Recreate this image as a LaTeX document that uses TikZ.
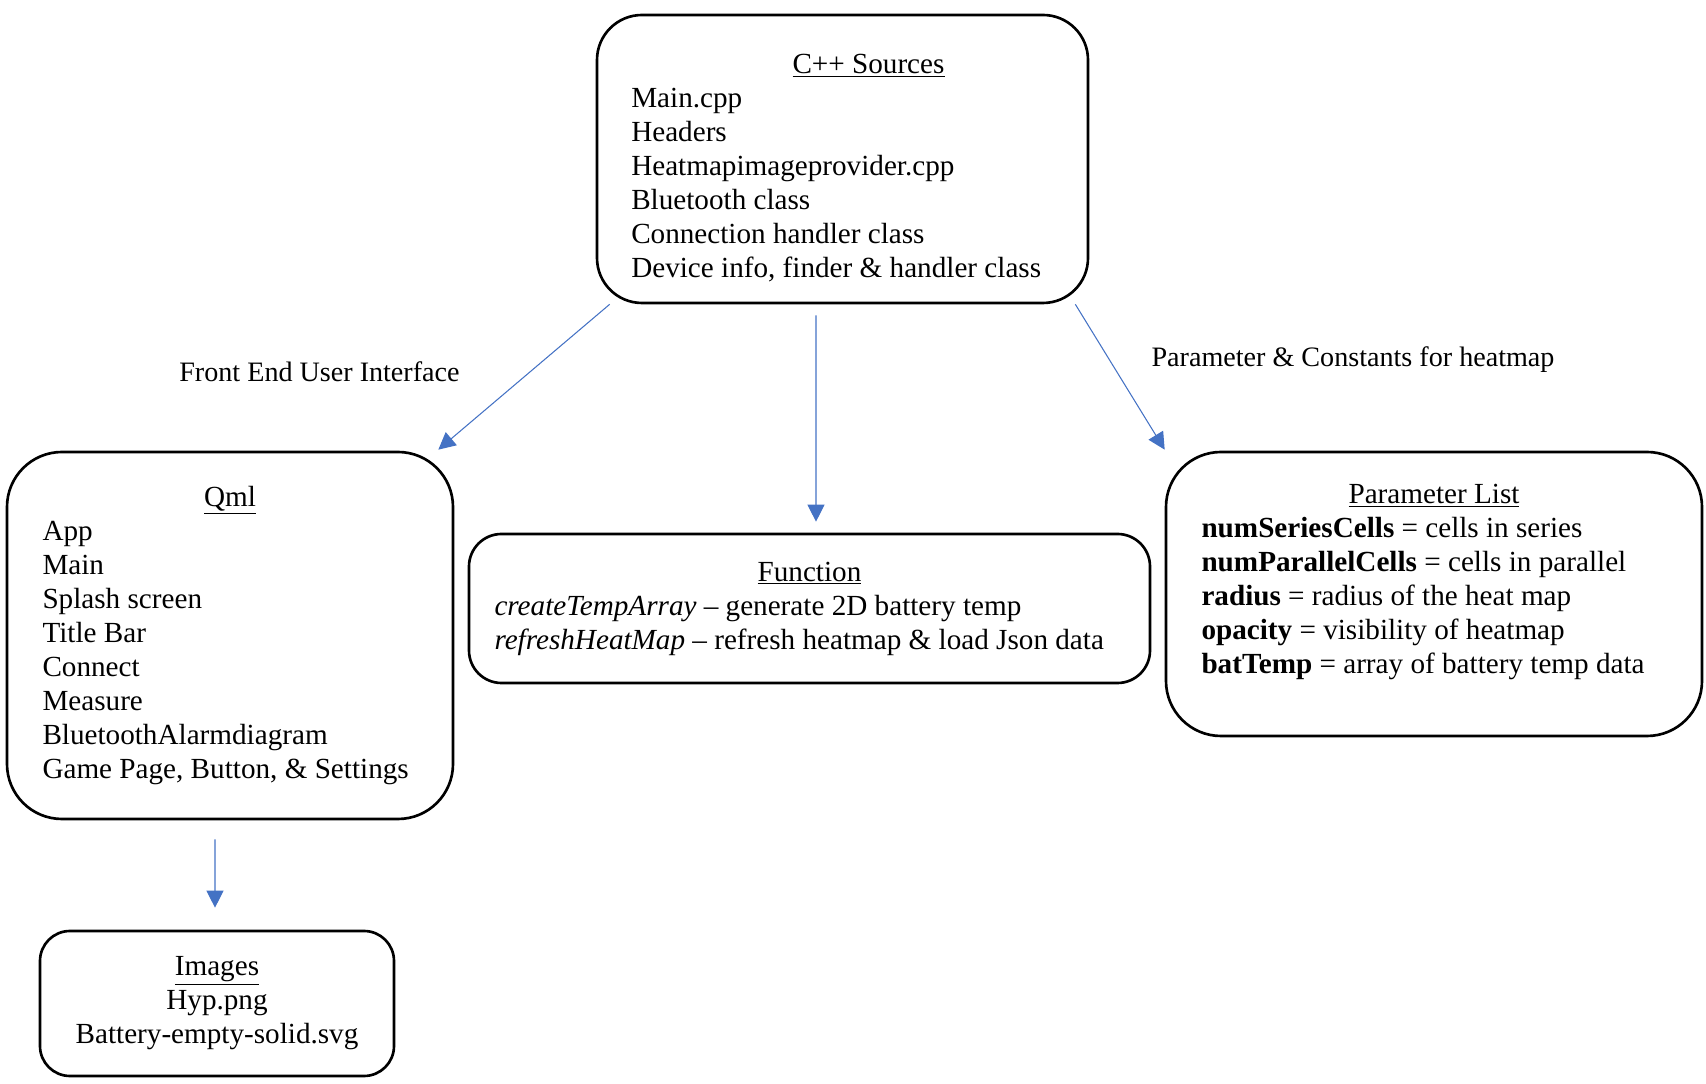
\documentclass[tikz,border=0pt]{standalone}
\usepackage{fontspec}
\setmainfont{Liberation Serif}
\usetikzlibrary{arrows.meta,calc}
\definecolor{linkblue}{HTML}{4472C4}
\tikzset{
  box/.style={draw, line width=1.5pt, inner sep=0pt, align=flush left, font=\fontsize{16.6}{19.35}\selectfont,
    execute at begin node={\spaceskip=0pt\xspaceskip=0pt}},
  link/.style={color=linkblue, line width=0.6pt, -{Triangle[length=0.34cm,width=0.34cm]}},
  note/.style={font=\fontsize{16}{19}\selectfont}
}
\newcommand\boxtitle[2][0pt]{\makebox[\hsize]{\hspace*{#1}\underline{#2}}}
\begin{document}
\begin{tikzpicture}
    \useasboundingbox (0,0) rectangle (34.12,21.68);
    % boxes
    \node[box, rounded corners=0.9cm, minimum width=9.82cm, minimum height=5.76cm, text width=8.45cm] (cpp) at (16.85,18.5)
      {\rule{0pt}{0.74cm}\boxtitle[1.04cm]{C++ Sources}\\Main.cpp\\Headers\\Heatmapimageprovider.cpp\\Bluetooth class\\Connection handler class\\Device info, finder \& handler class};
    \node[box, rounded corners=1.1cm, minimum width=8.92cm, minimum height=7.34cm, text width=7.5cm] (qml) at (4.6,8.97)
      {\boxtitle{Qml}\\App\\Main\\Splash screen\\Title Bar\\Connect\\Measure\\BluetoothAlarmdiagram\\Game Page, Button, \& Settings};
    \node[box, rounded corners=0.65cm, minimum width=13.62cm, minimum height=2.98cm, text width=12.6cm] (fun) at (16.19,9.51)
      {\boxtitle{Function}\\\textit{createTempArray} -- generate 2D battery temp\\\textit{refreshHeatMap} -- refresh heatmap \& load Json data};
    \node[box, rounded corners=1.1cm, minimum width=10.72cm, minimum height=5.68cm, text width=9.3cm] (par) at (28.68,9.8)
      {\boxtitle{Parameter List}\\\textbf{numSeriesCells} = cells in series\\\textbf{numParallelCells} = cells in parallel\\\textbf{radius} = radius of the heat map\\\textbf{opacity} = visibility of heatmap\\\textbf{batTemp} = array of battery temp data\rule[-0.6cm]{0pt}{0pt}};
    \node[box, align=center, rounded corners=0.6cm, minimum width=7.08cm, minimum height=2.9cm] (img) at (4.34,1.61)
      {\underline{Images}\\Hyp.png\\Battery-empty-solid.svg};
    % labels
    \node[note] (fe) at (6.39,14.24) {Front End User Interface};
    \node[note] (pc) at (27.06,14.48) {Parameter \& Constants for heatmap};
    % arrows
    \draw[link] ($(cpp.south west)+(0.28,0)$) -- ($(qml.north east)+(-0.32,0.02)$);
    \draw[link] ($(cpp.south)+(-0.53,-0.22)$) -- ($(fun.north)+(0.13,0.22)$);
    \draw[link] ($(cpp.south east)+(-0.28,0)$) -- ($(par.north west)+(0,0.02)$);
    \draw[link] ($(qml.south)+(-0.3,-0.38)$) -- ($(img.north)+(-0.04,0.44)$);
\end{tikzpicture}
\end{document}
